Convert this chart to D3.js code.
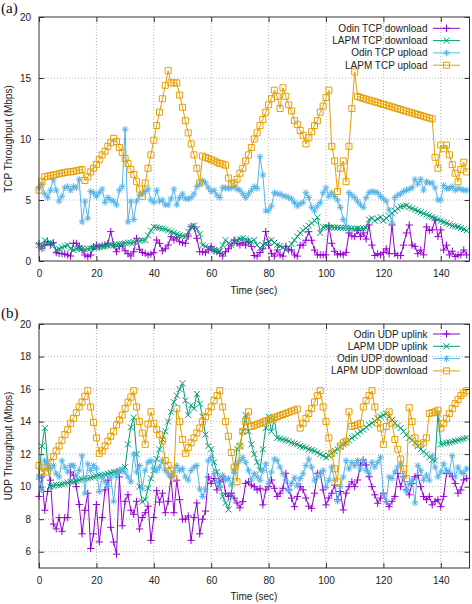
<!DOCTYPE html>
<html><head><meta charset="utf-8">
<script src="https://cdn.jsdelivr.net/npm/d3@7/dist/d3.min.js"></script>
<style>
body{margin:0;background:#fff;}
svg{display:block;font-family:"Liberation Sans",Arial,sans-serif;}
</style>
</head><body>
<svg id="chart" width="472" height="604"></svg>
<script>
// ---------- DATA ----------
const seconds = d3.range(0, 150);
const xTicks = [0, 20, 40, 60, 80, 100, 120, 140];
const tcpYTicks = [0, 5, 10, 15, 20];
const udpYTicks = [6, 8, 10, 12, 14, 16, 18, 20];
const tcpNames = ["Odin TCP download", "LAPM TCP download", "Odin TCP upload", "LAPM TCP upload"];
const udpNames = ["Odin UDP uplink", "LAPM UDP uplink", "Odin UDP download", "LAPM UDP download"];

const odinTcpDownload = [
1.4,1.05,1.3,1.58,1.31,1.5,0.68,0.63,0.6,0.57,
0.49,0.41,1.45,1.45,1.23,0.9,0.49,0.36,0.49,1.18,
1.31,1.18,1.25,1.31,1.45,2.41,1.31,0.76,1.18,1.23,
0.84,0.6,0.41,0.76,1.86,0.96,0.7,0.63,0.49,0.57,
0.68,1.72,1.45,0.84,1.0,1.31,1.99,1.72,1.94,1.58,
1.5,1.45,2.04,2.81,2.81,1.86,0.76,0.76,0.68,0.9,
1.18,0.84,0.76,0.63,0.41,0.76,1.0,1.31,1.72,1.45,
1.31,1.5,1.3,1.6,1.2,0.45,0.4,0.7,1.0,2.41,
1.3,0.63,0.4,0.9,0.5,0.4,1.2,0.9,0.9,0.5,
0.4,1.3,1.3,1.7,2.4,1.7,0.9,0.5,0.5,0.5,
0.5,2.9,1.45,0.8,0.5,0.6,0.5,0.7,2.3,2.05,
2.0,2.5,2.0,2.3,1.8,2.95,1.3,0.45,0.6,0.5,
0.7,1.0,0.6,2.95,0.6,0.45,0.45,1.3,2.3,2.95,
1.3,1.2,0.6,0.9,0.5,2.8,2.5,2.55,3.36,2.0,
2.55,0.9,1.3,0.5,0.8,0.36,0.5,0.5,0.9,0.5];

const lapmTcpDownload = [
1.3,1.05,1.7,1.45,1.5,1.3,0.9,1.0,1.1,1.2,
1.3,1.0,0.9,1.0,1.05,1.0,0.95,1.0,1.05,1.1,
1.1,1.15,1.2,1.2,1.25,1.3,1.3,1.35,1.4,1.4,
1.45,1.5,1.5,1.55,1.6,1.65,1.7,1.7,2.1,2.5,
2.8,2.75,2.7,2.65,2.6,2.5,2.4,2.3,2.2,2.1,
2.05,2.0,2.4,2.8,2.9,2.6,2.2,1.3,1.2,1.1,
1.0,0.9,0.85,0.8,1.3,1.72,1.45,1.31,1.58,1.72,
1.8,1.86,1.78,1.65,1.58,1.72,1.31,1.04,1.31,1.45,
1.6,1.72,1.5,1.31,1.23,1.1,0.9,1.1,1.4,1.72,
2.0,2.3,2.5,2.7,2.9,3.1,3.3,3.58,2.3,2.8,
2.8,2.78,2.76,2.75,2.74,2.72,2.7,2.7,2.68,2.66,
2.65,2.65,2.65,2.66,2.7,3.4,3.5,3.3,3.45,3.6,
3.3,3.5,3.7,3.9,4.1,4.3,4.45,4.5,4.55,4.4,
4.3,4.2,4.1,4.0,3.9,3.8,3.7,3.6,3.5,3.4,
3.3,3.2,3.1,3.0,2.9,2.85,2.8,2.7,2.6,2.5];

const odinTcpUpload = [
6.0,6.3,5.5,5.2,5.8,6.7,5.8,4.9,5.3,6.0,
6.1,5.8,6.1,6.0,6.7,3.2,4.9,3.5,5.7,5.6,
5.3,5.6,5.9,4.8,5.2,5.0,4.9,4.6,5.8,6.1,
10.8,3.2,4.9,3.4,4.9,5.4,5.5,5.7,5.9,5.0,
4.8,5.8,4.9,5.0,4.6,4.6,5.1,5.9,4.6,5.2,
5.5,5.1,5.1,5.2,5.5,6.1,6.3,6.6,6.4,6.0,
5.7,5.8,5.4,5.2,6.0,6.0,5.95,6.0,6.1,5.9,
5.8,5.5,5.2,5.5,5.8,6.1,5.95,8.55,7.05,4.1,
4.15,4.5,5.6,5.5,5.5,5.35,5.3,5.2,5.1,4.8,
4.5,4.7,4.8,5.6,5.2,4.4,4.1,4.5,4.8,5.6,
6.0,5.3,5.6,5.3,5.0,4.4,3.4,2.8,5.6,5.4,
5.2,4.9,4.6,4.4,5.2,5.6,5.7,5.65,5.6,5.3,
5.1,4.9,4.2,3.1,5.2,5.4,5.5,5.7,5.8,5.9,
6.0,6.7,6.3,6.7,5.8,6.5,6.4,6.4,6.0,5.0,
5.0,6.2,5.95,5.95,6.1,5.8,5.95,5.9,5.8,5.8];

const lapmTcpUpload = [
5.8,6.5,6.9,6.95,7.0,7.05,7.1,7.15,7.2,7.25,
7.3,7.3,7.35,7.4,7.45,7.5,6.6,6.9,7.3,7.6,
7.9,8.3,8.7,9.0,9.4,9.7,10.05,9.8,9.3,8.9,
8.4,8.0,7.5,7.1,6.5,5.9,5.3,6.4,7.6,8.7,
9.9,11.1,12.2,13.3,14.4,15.6,14.6,14.6,14.6,13.6,
12.6,11.5,10.5,9.6,8.7,7.6,6.4,8.6,8.5,8.4,
8.3,8.2,8.1,8.0,7.95,7.85,6.8,6.3,6.4,6.7,
7.2,7.6,8.2,8.7,9.3,10.0,10.5,11.1,11.6,12.2,
12.8,13.3,14.0,13.5,12.5,14.2,13.5,12.8,12.3,11.5,
11.2,10.7,10.3,9.6,10.1,10.6,11.1,11.5,12.2,12.7,
13.4,14.0,9.4,8.2,5.7,7.6,8.2,6.5,9.4,12.5,
15.5,13.5,13.4,13.33,13.26,13.19,13.12,13.05,12.98,12.91,
12.84,12.77,12.7,12.63,12.56,12.49,12.42,12.35,12.28,12.21,
12.14,12.07,12.0,11.93,11.86,11.79,11.72,11.65,8.5,7.6,
9.5,9.2,9.5,8.7,7.9,7.2,6.5,7.5,8.1,7.3];

const odinUdpUplink = [
9.4,10.6,8.55,9.7,10.4,7.7,7.4,8.1,7.25,8.1,
8.1,10.9,10.7,10.0,8.9,7.1,8.55,9.6,6.2,7.1,
8.9,6.6,8.1,9.8,10.4,7.5,6.6,5.85,10.6,7.6,
9.1,9.5,8.55,8.3,9.1,7.4,8.1,8.4,8.8,6.7,
8.1,9.75,9.05,9.6,8.4,9.1,10.6,8.4,10.4,9.2,
8.0,8.0,8.2,6.7,8.1,9.0,7.1,8.0,8.5,10.6,
10.2,10.5,9.8,10.3,10.6,9.6,9.4,9.6,9.3,9.0,
8.7,9.08,10.2,10.3,10.1,10.0,9.8,9.9,8.88,9.8,
10.0,10.41,9.9,9.4,9.6,9.9,10.82,9.8,9.3,8.77,
9.4,10.0,9.8,9.3,8.8,8.67,9.6,10.82,10.82,9.8,
8.88,9.3,9.6,10.1,9.2,9.7,8.57,9.6,10.0,10.3,
10.0,10.41,11.33,11.64,11.33,10.61,10.0,9.5,8.98,9.3,
9.6,9.08,8.77,9.1,9.4,10.82,10.0,10.61,9.8,9.5,
10.2,10.61,10.7,10.0,9.4,9.2,9.4,8.88,9.1,9.2,
8.77,9.4,10.82,10.82,10.61,10.2,9.6,9.8,10.41,10.51];

const lapmUdpUplink = [
10.6,12.5,13.6,11.5,10.0,10.05,10.1,10.1,10.15,10.2,
10.25,10.3,10.3,10.35,10.4,10.45,10.5,10.5,10.55,10.6,
10.65,10.7,10.7,10.75,10.8,10.85,10.9,10.9,10.95,11.0,
11.2,12.6,13.65,14.25,12.0,10.0,9.07,9.2,9.9,10.5,
11.0,11.7,12.3,12.9,13.4,14.0,14.6,15.2,15.6,16.0,
16.35,15.3,14.4,15.0,14.8,15.7,15.1,14.3,13.2,12.5,
12.3,11.5,10.9,10.15,9.4,9.0,8.6,9.5,11.0,12.3,
12.5,13.4,14.4,13.4,12.6,12.0,11.5,11.0,12.3,13.6,
14.3,13.4,14.2,13.0,12.95,12.9,12.85,12.8,12.7,12.65,
12.6,12.5,12.45,12.4,12.3,12.25,12.2,12.1,12.0,11.9,
11.8,11.9,12.05,12.2,12.3,12.45,12.6,12.7,12.85,13.0,
13.1,13.25,13.4,13.5,13.65,13.8,13.9,14.05,14.2,14.3,
14.4,14.5,14.3,14.1,13.9,13.75,13.6,13.4,13.2,13.0,
12.85,12.7,12.5,12.3,12.15,12.0,11.8,11.65,11.6,14.5,
12.6,12.65,12.7,12.72,12.76,12.8,12.85,12.9,12.95,13.0];

const odinUdpDownload = [
10.6,9.8,11.6,11.2,11.1,11.3,10.8,10.6,11.6,11.2,
10.9,11.3,11.3,10.6,11.0,11.9,9.6,11.4,11.0,11.3,
11.1,9.7,10.6,10.3,10.0,10.6,9.1,10.65,11.0,11.1,
10.9,10.6,10.3,12.0,10.9,11.3,9.9,11.0,11.5,11.6,
11.1,11.0,11.2,11.6,11.0,10.8,10.6,10.9,11.3,11.0,
11.1,10.6,10.4,11.0,11.2,11.3,9.85,9.4,9.85,11.6,
11.8,10.8,10.3,9.95,10.7,10.4,10.5,10.1,10.9,11.4,
11.6,11.8,11.5,11.0,10.4,10.8,10.6,10.4,11.0,11.4,
10.2,10.9,11.7,11.6,11.2,10.8,10.4,9.75,10.2,10.55,
10.05,10.5,10.8,11.3,11.7,11.2,10.4,10.6,10.8,11.0,
9.95,10.4,11.2,10.4,9.1,10.0,10.6,11.6,11.1,11.5,
11.3,11.6,11.1,11.6,11.0,10.8,11.5,11.2,11.5,11.8,
9.5,9.1,10.6,10.5,10.9,11.2,11.4,10.6,9.75,10.15,
10.4,9.0,11.3,11.0,10.4,10.7,10.4,11.9,11.2,10.6,
10.9,11.4,11.0,10.9,11.9,10.6,11.2,10.9,10.8,11.1];

const lapmUdpDownload = [
11.3,10.9,11.2,10.9,11.5,11.85,12.2,12.5,12.85,13.2,
13.5,13.9,14.2,14.55,14.9,15.2,15.55,15.9,14.9,13.95,
13.0,12.05,12.2,12.5,12.8,13.1,13.4,13.8,14.1,14.4,
14.8,15.2,15.5,15.9,14.9,14.0,13.3,12.6,13.85,14.6,
13.9,13.5,13.2,12.8,11.6,11.3,11.0,10.5,14.8,14.0,
12.9,12.05,12.4,12.7,13.0,13.3,13.6,14.0,14.3,14.6,
14.9,15.3,15.6,15.9,14.9,14.0,13.1,12.1,11.2,10.3,
12.5,13.4,14.0,14.6,13.7,13.77,13.84,13.9,13.97,14.04,
14.1,14.17,14.24,14.3,14.37,14.44,14.5,14.57,14.64,14.7,
14.77,13.6,13.9,14.2,14.5,14.8,15.2,15.6,15.9,14.9,
14.0,13.0,12.05,11.1,10.3,12.5,12.7,12.8,14.6,13.7,
13.75,13.8,13.9,14.9,15.3,15.6,15.9,14.9,13.9,13.6,
12.6,13.7,14.6,13.9,12.9,12.3,11.7,11.1,10.5,14.85,
14.0,13.0,12.6,12.6,12.7,13.0,14.5,14.55,14.6,14.7,
13.6,13.9,14.2,14.5,14.8,15.1,15.35,15.6,15.75,15.9];

// ---------- STYLE / LAYOUT ----------
const palette = ["#9400D3", "#009E73", "#56B4E9", "#E69F00"];
const symbols = ["plus", "cross", "star", "square"];
const svg = d3.select("#chart");
const xLeft = 39, xRight = 469.5;

function markerPath(type) {
  const p = d3.path();
  if (type === "plus" || type === "star") {
    const a = type === "plus" ? 3.6 : 3.3;
    p.moveTo(-a, 0); p.lineTo(a, 0); p.moveTo(0, -a); p.lineTo(0, a);
  }
  if (type === "cross" || type === "star") {
    const a = type === "cross" ? 3 : 2.4;
    p.moveTo(-a, -a); p.lineTo(a, a); p.moveTo(-a, a); p.lineTo(a, -a);
  }
  if (type === "square") { p.rect(-3, -3, 6, 6); }
  return p.toString();
}

function drawPanel(cfg) {
  const x = d3.scaleLinear().domain([0, 150]).range([xLeft, xRight]);
  const y = d3.scaleLinear().domain(cfg.yDomain).range([cfg.yBottom, cfg.yTop]);
  const g = svg.append("g");

  // grid
  g.append("g").selectAll("line.gx").data(xTicks.filter(t => t > 0)).join("line")
    .attr("x1", d => x(d)).attr("x2", d => x(d))
    .attr("y1", cfg.yTop).attr("y2", cfg.yBottom)
    .attr("stroke", "#b4b4b4").attr("stroke-width", 1).attr("stroke-dasharray", "1,2");
  g.append("g").selectAll("line.gy").data(cfg.yTicks.filter(t => t > cfg.yDomain[0] && t < cfg.yDomain[1])).join("line")
    .attr("x1", xLeft).attr("x2", xRight)
    .attr("y1", d => y(d)).attr("y2", d => y(d))
    .attr("stroke", "#b4b4b4").attr("stroke-width", 1).attr("stroke-dasharray", "1,2");

  // axes with inward ticks (mirrored)
  const axL = d3.axisLeft(y).tickValues(cfg.yTicks).tickSizeInner(-5).tickSizeOuter(0).tickPadding(8);
  const axR = d3.axisRight(y).tickValues(cfg.yTicks).tickSizeInner(-5).tickSizeOuter(0).tickFormat("");
  const axB = d3.axisBottom(x).tickValues(xTicks).tickSizeInner(-5).tickSizeOuter(0).tickPadding(9);
  const axT = d3.axisTop(x).tickValues(xTicks).tickSizeInner(-5).tickSizeOuter(0).tickFormat("");
  const styleAxis = sel => {
    sel.select(".domain").remove();
    sel.selectAll("line").attr("stroke", "#333");
    sel.selectAll("text").attr("fill", "#222").style("font-size", "10px")
      .style("font-family", "'Liberation Sans',Arial,sans-serif");
  };
  g.append("g").attr("transform", `translate(${xLeft},0)`).call(axL).call(styleAxis);
  g.append("g").attr("transform", `translate(${xRight},0)`).call(axR).call(styleAxis);
  g.append("g").attr("transform", `translate(0,${cfg.yBottom})`).call(axB).call(styleAxis);
  g.append("g").attr("transform", `translate(0,${cfg.yTop})`).call(axT).call(styleAxis);

  // series
  cfg.series.forEach((vals, i) => {
    const pts = seconds.map((t, k) => [t, vals[k]]);
    g.append("path").datum(pts)
      .attr("fill", "none").attr("stroke", palette[i]).attr("stroke-width", 1)
      .attr("d", d3.line().x(d => x(d[0])).y(d => y(d[1])));
    g.append("g").selectAll("path").data(pts).join("path")
      .attr("transform", d => `translate(${x(d[0])},${y(d[1])})`)
      .attr("d", markerPath(symbols[i]))
      .attr("fill", "none").attr("stroke", palette[i]).attr("stroke-width", 1);
  });

  // frame
  g.append("rect").attr("x", xLeft).attr("y", cfg.yTop)
    .attr("width", xRight - xLeft).attr("height", cfg.yBottom - cfg.yTop)
    .attr("fill", "none").attr("stroke", "#333").attr("stroke-width", 1);

  // legend
  cfg.names.forEach((name, i) => {
    const ly = cfg.legendY + i * 12.3;
    const lg = svg.append("g").attr("transform", `translate(0,${ly})`);
    lg.append("text").attr("x", 427.5).attr("y", 0).attr("dy", "0.35em")
      .attr("text-anchor", "end").attr("fill", "#222").style("font-size", "10px").text(name);
    lg.append("line").attr("x1", 433).attr("x2", 460).attr("y1", 0).attr("y2", 0)
      .attr("stroke", palette[i]).attr("stroke-width", 1);
    lg.append("path").attr("transform", "translate(446.5,0)").attr("d", markerPath(symbols[i]))
      .attr("fill", "none").attr("stroke", palette[i]).attr("stroke-width", 1);
  });

  // labels
  svg.append("text").attr("x", 254).attr("y", cfg.xLabelY).attr("text-anchor", "middle")
    .attr("fill", "#222").style("font-size", "10px").text("Time (sec)");
  svg.append("text").attr("transform", `translate(12,${(cfg.yTop + cfg.yBottom) / 2}) rotate(-90)`)
    .attr("text-anchor", "middle").attr("fill", "#222").style("font-size", "10px").text(cfg.yLabel);
  svg.append("text").attr("x", 1).attr("y", cfg.panelY)
    .attr("fill", "#111").style("font-size", "15px")
    .style("font-family", "'Liberation Serif','Times New Roman',serif").text(cfg.panel);
}

drawPanel({
  yDomain: [0, 20], yTicks: tcpYTicks, yTop: 17, yBottom: 261,
  series: [odinTcpDownload, lapmTcpDownload, odinTcpUpload, lapmTcpUpload],
  names: tcpNames, legendY: 28.3, xLabelY: 293.5,
  yLabel: "TCP Throughput (Mbps)", panel: "(a)", panelY: 13
});
drawPanel({
  yDomain: [5, 20], yTicks: udpYTicks, yTop: 324, yBottom: 568,
  series: [odinUdpUplink, lapmUdpUplink, odinUdpDownload, lapmUdpDownload],
  names: udpNames, legendY: 334, xLabelY: 600,
  yLabel: "UDP Throughput (Mbps)", panel: "(b)", panelY: 318
});
</script>
</body></html>
